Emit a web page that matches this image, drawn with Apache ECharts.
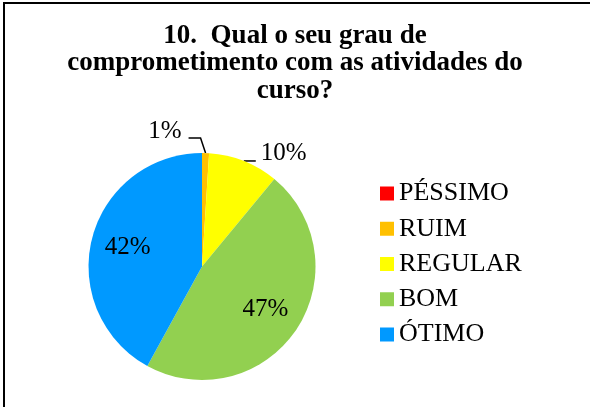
<!DOCTYPE html>
<html>
<head>
<meta charset="utf-8">
<script src="https://cdn.jsdelivr.net/npm/echarts@6/dist/echarts.min.js"></script>
<style>
html, body { margin: 0; padding: 0; background: #fff; }
#chart { width: 590px; height: 407px; }
</style>
</head>
<body>
<div id="chart"></div>
<script>
var categorias = ['PÉSSIMO', 'RUIM', 'REGULAR', 'BOM', 'ÓTIMO'];
var percentuais = [0, 1, 10, 47, 42];
var cores = ['#FF0000', '#FFC000', '#FFFF00', '#92D050', '#0099FF'];
var rotulosFora = ['RUIM', 'REGULAR'];
var rotulosDentro = ['BOM', 'ÓTIMO'];

var fonte = '"Liberation Serif", "Times New Roman", serif';
var raio = 113.5;
var centro = [202, 266.5];

var chart = echarts.init(document.getElementById('chart'));

// monta os itens do pie, mostrando rotulo so para os nomes da lista
var montaDados = function (lista, transparente) {
    return categorias.map(function (nome, i) {
        var mostra = lista.indexOf(nome) >= 0;
        return {
            name: nome,
            value: percentuais[i],
            itemStyle: { color: transparente ? 'rgba(0,0,0,0)' : cores[i] },
            label: { show: mostra },
            labelLine: { show: mostra }
        };
    });
};

chart.setOption({
    animation: false,
    title: {
        text: '10.  Qual o seu grau de\ncomprometimento com as atividades do\ncurso?',
        left: 'center',
        top: 22,
        padding: 0,
        textStyle: {
            fontFamily: fonte,
            fontSize: 27,
            fontWeight: 'bold',
            lineHeight: 27.5,
            color: '#000'
        }
    },
    legend: {
        orient: 'vertical',
        left: 380,
        top: 180.5,
        padding: 0,
        itemWidth: 14,
        itemHeight: 14,
        itemGap: 9.25,
        icon: 'rect',
        data: categorias.map(function (nome, i) {
            return { name: nome, itemStyle: { color: cores[i] } };
        }),
        textStyle: { fontFamily: fonte, fontSize: 26, lineHeight: 25, color: '#000' }
    },
    graphic: [
        { type: 'line', shape: { x1: 3, y1: 3, x2: 590, y2: 3 }, style: { stroke: '#000', lineWidth: 2 } },
        { type: 'line', shape: { x1: 4, y1: 2, x2: 4, y2: 407 }, style: { stroke: '#000', lineWidth: 2 } }
    ],
    series: [
        {
            type: 'pie',
            center: centro,
            radius: [0, raio],
            startAngle: 90,
            clockwise: true,
            emphasis: { disabled: true },
            itemStyle: { borderWidth: 0 },
            label: {
                position: 'outside',
                formatter: '{d}%',
                fontFamily: fonte,
                fontSize: 25,
                color: '#000'
            },
            labelLine: { lineStyle: { color: '#000', width: 1.5 } },
            labelLayout: function (p) {
                var pt = p.labelLinePoints;
                if (!pt) return;
                var x0 = pt[0][0], y0 = pt[0][1];
                if (categorias[p.dataIndex] === 'RUIM') {
                    return {
                        x: x0 - 24, y: y0 - 22, align: 'right', verticalAlign: 'middle',
                        labelLinePoints: [[x0, y0], [x0 - 5, y0 - 15], [x0 - 17, y0 - 15]]
                    };
                }
                return {
                    x: x0 + 17, y: y0 - 8, align: 'left', verticalAlign: 'middle',
                    labelLinePoints: [[x0, y0], [x0 + 6, y0], [x0 + 12, y0]]
                };
            },
            data: montaDados(rotulosFora, false)
        },
        {
            // camada transparente so para os rotulos internos (a ~65% do raio)
            type: 'pie',
            center: centro,
            radius: [raio * 0.3, raio],
            startAngle: 90,
            clockwise: true,
            silent: true,
            emphasis: { disabled: true },
            itemStyle: { borderWidth: 0 },
            label: {
                position: 'inside',
                formatter: '{d}%',
                fontFamily: fonte,
                fontSize: 25,
                color: '#000'
            },
            labelLine: { show: false },
            data: montaDados(rotulosDentro, true)
        }
    ]
});
</script>
</body>
</html>
